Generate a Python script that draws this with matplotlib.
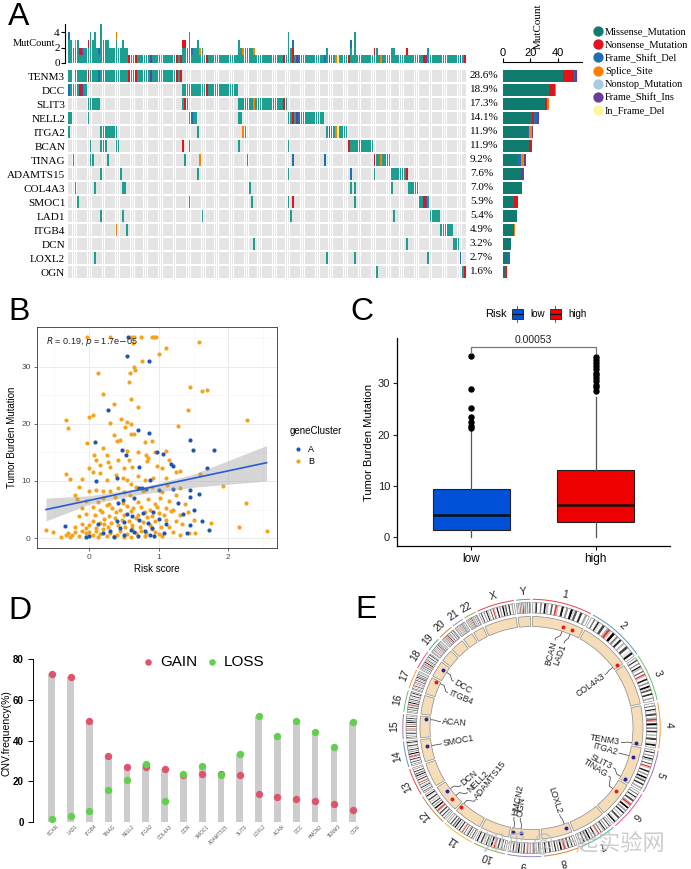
import matplotlib
matplotlib.use("Agg")
import matplotlib.pyplot as plt
import numpy as np
from matplotlib.patches import Wedge, Rectangle

plt.rcParams['font.family'] = ['Liberation Sans', 'DejaVu Sans']
SERIF = 'Liberation Serif'

# ---------------- panel A : oncoplot ----------------
genes = ['TENM3', 'DCC', 'SLIT3', 'NELL2', 'ITGA2', 'BCAN', 'TINAG', 'ADAMTS15',
         'COL4A3', 'SMOC1', 'LAD1', 'ITGB4', 'DCN', 'LOXL2', 'OGN']
pct_labels = ['28.6%', '18.9%', '17.3%', '14.1%', '11.9%', '11.9%', '9.2%', '7.6%',
              '7.0%', '5.9%', '5.4%', '4.9%', '3.2%', '2.7%', '1.6%']
n_samples = 185

# mutated sample columns for each gene (read from the matrix)
tenm3_cols = list(range(0, 53))
dcc_cols = list(range(0, 9)) + list(range(53, 79))
slit3_cols = list(range(9, 15)) + [53, 54, 55] + list(range(79, 102))
nell2_cols = [0, 1, 9, 56, 57, 58, 59, 79, 80] + list(range(102, 119))
itga2_cols = [0] + list(range(15, 23)) + [60, 81, 82] + list(range(120, 130))
bcan_cols = [10, 15, 16, 17, 22, 23, 53, 56, 79, 102] + list(range(130, 142))
tinag_cols = [2, 10, 11, 18, 54, 61, 83, 104, 119] + list(range(142, 150))
adamts15_cols = [15, 24, 60, 102, 131, 142] + list(range(150, 158))
col4a3_cols = [3, 12, 25, 26, 84, 131, 133, 150] + list(range(158, 163))
smoc1_cols = [4, 56, 85, 102, 104, 133] + list(range(163, 168))
lad1_cols = [15, 25, 62, 103, 151] + list(range(168, 173))
itgb4_cols = [22, 27] + list(range(173, 179))
dcn_cols = [86, 157, 179, 180, 181]
loxl2_cols = [12, 120, 133, 167, 182]
ogn_cols = [143, 183, 184]

# non-missense cells (gene, column)
nonsense_cells = [('TENM3', 9), ('TENM3', 28), ('TENM3', 31), ('TENM3', 50), ('TENM3', 52),
                  ('DCC', 5), ('DCC', 64), ('SLIT3', 54), ('SLIT3', 100), ('NELL2', 104),
                  ('BCAN', 53), ('BCAN', 130), ('TINAG', 142), ('ADAMTS15', 157),
                  ('SMOC1', 104), ('SMOC1', 165), ('OGN', 184)]
fsdel_cells = [('TENM3', 14), ('DCC', 0), ('NELL2', 57), ('NELL2', 107), ('TINAG', 104),
               ('TINAG', 119), ('ADAMTS15', 131), ('LOXL2', 182), ('ITGA2', 121)]
splice_cells = [('TENM3', 43), ('DCC', 3), ('SLIT3', 86), ('ITGA2', 81), ('ITGA2', 124),
                ('TINAG', 61), ('TINAG', 145), ('ITGB4', 22)]
fsins_cells = [('TENM3', 38), ('DCC', 6), ('SMOC1', 166), ('NELL2', 106)]
ifdel_cells = [('TENM3', 2), ('ITGA2', 125)]

mut_types = ['Missense_Mutation', 'Nonsense_Mutation', 'Frame_Shift_Del', 'Splice_Site',
             'Nonstop_Mutation', 'Frame_Shift_Ins', 'In_Frame_Del']
mut_colors = ['#1C9E91', '#E3131B', '#1F6FB4', '#FF8000', '#A6CEE3', '#6A3D9A', '#FFF59A']
legend_colors = ['#0F7C6F', '#E3131B', '#1F6FB4', '#FF8000', '#A6CEE3', '#6A3D9A', '#FFF59A']

# side bar counts per gene and type
side_missense = [44, 34, 31, 21, 18, 19, 10, 13, 14, 8, 10, 8, 6, 4, 2]
side_nonsense = [8, 4, 1, 2, 0, 2, 0, 1, 0, 2, 0, 0, 0, 0, 1]
side_fsdel = [1, 0, 0, 2, 1, 0, 3, 0, 0, 0, 0, 0, 0, 1, 0]
side_splice = [0, 1, 2, 0, 2, 0, 2, 0, 0, 0, 0, 1, 0, 0, 0]
side_nonstop = [0] * 15
side_fsins = [1, 0, 0, 1, 1, 0, 2, 1, 0, 1, 0, 0, 0, 0, 0]
side_ifdel = [1, 0, 0, 0, 0, 0, 0, 0, 0, 0, 0, 0, 0, 0, 0]

# ---------------- panel B : scatter ----------------
a_points = [(0.56, 35.2), (0.55, 32.0), (0.86, 31.0), (0.27, 22.5), (0.70, 19.0), (0.08, 16.8),
            (0.86, 18.5), (0.47, 15.5), (0.53, 14.6), (0.97, 15.0), (1.06, 14.8), (1.45, 17.2),
            (1.49, 15.4), (1.80, 15.5), (1.18, 13.0), (1.20, 12.6), (1.70, 12.3), (0.72, 12.5),
            (0.10, 10.0), (0.40, 10.5), (0.87, 10.2), (0.72, 8.7), (0.76, 8.7), (0.81, 8.6),
            (1.00, 8.5), (1.20, 8.6), (1.45, 8.4), (1.45, 7.2), (1.58, 7.8), (0.42, 6.2),
            (0.49, 6.6), (0.65, 7.0), (1.28, 6.2), (0.55, 4.2), (0.62, 3.9), (0.78, 4.4),
            (0.92, 4.5), (1.50, 4.9), (1.35, 4.2), (0.40, 3.0), (0.50, 2.8), (0.72, 3.1),
            (0.85, 2.6), (1.00, 3.3), (1.10, 2.5), (1.62, 3.0), (-0.35, 2.1), (0.12, 2.5),
            (0.30, 1.3), (0.45, 1.8), (0.60, 1.4), (0.90, 1.7), (1.08, 0.8), (1.45, 2.3),
            (1.72, 1.4), (1.40, 0.9), (-0.05, 0.1), (0.00, 0.3), (0.35, 0.1), (0.50, 0.5),
            (0.70, 0.3), (0.88, 0.6), (0.93, 0.4), (0.20, 0.8), (0.65, 1.0), (0.80, 1.2)]
b_points = [(-0.03, 35.2), (0.30, 35.2), (0.60, 35.2), (0.65, 35.2), (0.75, 35.2), (0.90, 35.2),
            (0.93, 35.2), (0.96, 35.2), (0.63, 34.2), (1.58, 34.3), (1.10, 33.4), (1.00, 32.3),
            (0.76, 31.0), (0.58, 29.0), (0.65, 30.0), (0.66, 29.5), (0.13, 29.0), (0.57, 27.3),
            (0.20, 25.2), (1.62, 25.7), (1.70, 25.9), (1.45, 26.5), (0.60, 24.3), (0.35, 23.5),
            (0.70, 23.0), (1.42, 22.5), (0.05, 21.5), (0.00, 21.3), (-0.33, 20.7), (-0.30, 19.3),
            (0.30, 20.2), (0.46, 20.8), (0.55, 20.4), (0.52, 19.5), (0.60, 20.0), (2.27, 20.7),
            (1.27, 19.7), (0.35, 18.0), (0.60, 18.3), (0.65, 18.2), (0.40, 17.0), (0.45, 17.1),
            (0.90, 17.0), (0.80, 16.9), (-0.03, 16.7), (0.20, 15.8), (0.55, 15.3), (0.70, 15.0),
            (0.25, 14.5), (0.82, 14.6), (0.95, 15.0), (1.10, 15.2), (0.07, 14.5), (0.10, 13.7),
            (0.27, 13.3), (0.42, 13.6), (0.57, 13.7), (0.83, 13.5), (0.85, 14.0), (1.15, 13.6),
            (1.05, 12.2), (1.30, 11.8), (0.15, 12.8), (0.30, 12.5), (0.50, 12.3), (0.62, 12.4),
            (0.98, 12.6), (-0.33, 11.2), (-0.28, 10.3), (-0.10, 10.4), (0.00, 12.3), (0.05, 11.5),
            (0.15, 11.4), (0.38, 11.0), (0.48, 10.6), (0.70, 10.8), (0.92, 10.6), (1.10, 10.5),
            (1.25, 11.5), (1.60, 11.2), (0.25, 10.2), (0.55, 10.2), (0.80, 10.1), (-0.15, 9.0),
            (0.00, 8.3), (-0.20, 7.6), (0.10, 8.5), (0.20, 8.2), (0.30, 8.3), (0.42, 8.7),
            (0.50, 8.0), (0.60, 9.5), (0.68, 9.0), (0.78, 8.2), (0.90, 9.0), (1.05, 8.0),
            (1.12, 9.3), (1.30, 8.8), (1.93, 9.1), (-0.18, 6.9), (-0.05, 6.5), (0.12, 6.3),
            (0.20, 7.0), (0.28, 6.0), (0.37, 7.2), (0.48, 6.1), (0.58, 7.5), (0.70, 6.3),
            (0.85, 6.8), (0.95, 6.0), (1.02, 7.0), (1.15, 6.5), (1.25, 7.5), (1.38, 6.0),
            (2.25, 6.2), (-0.10, 5.3), (0.05, 5.5), (0.15, 5.0), (0.25, 5.8), (0.33, 5.2),
            (0.45, 5.0), (0.55, 5.6), (0.63, 5.2), (0.75, 5.4), (0.88, 5.0), (0.98, 5.5),
            (1.10, 5.2), (1.20, 5.0), (-0.62, 1.4), (-0.52, 1.1), (-0.40, 0.1), (-0.30, 0.8),
            (-0.25, 0.5), (-0.20, 1.0), (-0.15, 0.4), (-0.10, 1.3), (-0.05, 0.8), (0.00, 1.0),
            (0.05, 0.5), (0.10, 1.2), (0.15, 0.7), (0.20, 1.5), (0.25, 0.3), (0.30, 0.9),
            (0.40, 0.6), (0.45, 1.2), (0.55, 0.7), (0.60, 0.2), (0.68, 0.8), (0.75, 1.3),
            (0.82, 0.9), (0.95, 1.0), (1.00, 0.7), (1.05, 0.3), (1.20, 1.0), (1.30, 0.5),
            (1.43, 0.8), (1.52, 0.9), (2.15, 2.0), (2.55, 1.3), (1.75, 2.6), (-0.20, 2.0),
            (-0.10, 2.5), (0.00, 2.2), (0.05, 3.0), (0.10, 1.8), (0.15, 2.7), (0.22, 3.3),
            (0.27, 2.0), (0.32, 2.6), (0.37, 3.5), (0.42, 2.2), (0.47, 3.2), (0.52, 2.0),
            (0.57, 3.0), (0.62, 2.3), (0.68, 3.5), (0.73, 2.0), (0.78, 2.8), (0.83, 3.6),
            (0.88, 2.2), (0.95, 3.0), (1.03, 2.0), (1.10, 3.2), (1.15, 2.0), (1.25, 3.0),
            (1.33, 2.5), (1.50, 3.2), (-0.15, 3.8), (-0.05, 4.2), (0.08, 4.0), (0.18, 4.5),
            (0.28, 3.9), (0.38, 4.6), (0.50, 4.0), (0.60, 4.8), (0.70, 4.0), (0.80, 4.6),
            (0.90, 3.9), (1.00, 4.4), (1.08, 4.1), (1.18, 4.7), (1.30, 4.0), (1.42, 4.5),
            (-0.33, 0.5), (-0.28, 0.2), (0.12, 0.1), (0.35, 0.3), (0.50, 0.1), (0.80, 0.4),
            (0.90, 1.5), (0.62, 1.7), (0.22, 2.4), (-0.05, 1.7)]
fit_slope, fit_intercept = 2.59, 6.6
ci_x = [-0.62, 0.0, 0.7, 1.5, 2.55]
ci_lo = [3.0, 5.9, 7.6, 8.9, 10.0]
ci_hi = [7.0, 7.4, 8.7, 11.2, 16.2]

# ---------------- panel C : boxplot ----------------
risk_groups = ['low', 'high']
box_stats = [
    dict(med=4.2, q1=1.4, q3=9.3, whislo=0.0, whishi=20.8,
         fliers=[21.2, 21.6, 22.4, 23.5, 25.2, 29.0, 35.3]),
    dict(med=6.2, q1=2.8, q3=13.1, whislo=0.0, whishi=27.3,
         fliers=[28.6, 29.3, 29.8, 30.4, 31.0, 31.7, 32.1, 32.8, 33.4, 34.0, 34.6, 35.1]),
]
p_value_label = '0.00053'

# ---------------- panel D : CNV frequency ----------------
cnv_genes = ['BCAN', 'LAD1', 'ITGB4', 'TINAG', 'NELL2', 'ITGA2', 'COL4A3', 'DCN', 'SMOC1',
             'ADAMTS15', 'SLIT3', 'LOXL2', 'ACAN', 'DCC', 'HMCN2', 'TENM3', 'OGN']
cnv_gain = [72.5, 71.0, 49.5, 32.5, 27.0, 27.0, 26.0, 23.2, 23.5, 23.5, 23.2, 13.5, 12.0,
            11.2, 10.2, 9.0, 6.0]
cnv_loss = [1.5, 3.0, 5.5, 15.8, 20.5, 28.7, 10.2, 23.7, 27.5, 23.0, 33.5, 52.0, 42.2,
            49.5, 44.0, 36.8, 49.0]

# ---------------- panel E : circos ----------------
chrom_names = [str(i) for i in range(1, 23)] + ['X', 'Y']
chrom_len_mb = [249, 243, 198, 191, 181, 171, 159, 146, 141, 136, 135, 134, 115, 107, 103,
                90, 81, 78, 59, 63, 48, 51, 155, 59]
chrom_colors = ['#E41A1C', '#377EB8', '#4DAF4A', '#FF7F00', '#984EA3', '#E7298A', '#1B9E77',
                '#D95F02', '#7570B3', '#66A61E', '#E6AB02', '#A6761D', '#E41A1C', '#377EB8',
                '#984EA3', '#4DAF4A', '#FF7F00', '#E7298A', '#1B9E77', '#D95F02', '#7570B3',
                '#66A61E', '#E41A1C', '#377EB8']
band_edges = [0.00, 0.05, 0.08, 0.13, 0.16, 0.20, 0.23, 0.28, 0.32, 0.35, 0.39, 0.42, 0.45,
              0.50, 0.54, 0.58, 0.62, 0.66, 0.70, 0.74, 0.78, 0.83, 0.87, 0.92, 0.96, 1.00]
band_shades_a = ['#F2F2F2', '#3A3A3A', '#FFFFFF', '#8C8C8C', '#FFFFFF', '#111111', '#C8C8C8',
                 '#FFFFFF', '#5E5E5E', '#FFFFFF', '#D63A30', '#E8A6A0', '#FFFFFF', '#222222',
                 '#FFFFFF', '#999999', '#FFFFFF', '#000000', '#DDDDDD', '#555555', '#FFFFFF',
                 '#303030', '#FFFFFF', '#A8A8A8', '#FFFFFF']
band_shades_b = ['#FFFFFF', '#777777', '#FFFFFF', '#1E1E1E', '#E0E0E0', '#FFFFFF', '#4A4A4A',
                 '#FFFFFF', '#B5B5B5', '#D63A30', '#E8A6A0', '#FFFFFF', '#000000', '#FFFFFF',
                 '#8A8A8A', '#FFFFFF', '#2A2A2A', '#FFFFFF', '#C0C0C0', '#FFFFFF', '#444444',
                 '#FFFFFF', '#E4E4E4', '#111111', '#FFFFFF']
e_genes = ['BCAN', 'LAD1', 'COL4A3', 'TENM3', 'ITGA2', 'SLIT3', 'TINAG', 'LOXL2', 'OGN',
           'HMCN2', 'ADAMTS15', 'NELL2', 'DCN', 'SMOC1', 'ACAN', 'ITGB4', 'DCC']
e_chrom = ['1', '1', '2', '4', '5', '5', '6', '8', '9', '9', '11', '12', '12', '14', '15',
           '17', '18']
e_pos_mb = [156, 201, 228, 183, 52, 168, 54, 23, 95, 133, 130, 45, 91, 70, 89, 73, 50]
e_label_angle = [75, 69, 36, -9, -16, -26, -32, -72, -97, -101, -128, -135, -141, -170,
                 176, 157, 149]

# =====================================================================
W, H = 691, 869
fig = plt.figure(figsize=(W / 100, H / 100), dpi=100)


def px_axes(x0, y0, x1, y1, **kw):
    return fig.add_axes([x0 / W, 1 - y1 / H, (x1 - x0) / W, (y1 - y0) / H], **kw)


# ---------- A ----------
gene_cols = [tenm3_cols, dcc_cols, slit3_cols, nell2_cols, itga2_cols, bcan_cols, tinag_cols,
             adamts15_cols, col4a3_cols, smoc1_cols, lad1_cols, itgb4_cols, dcn_cols,
             loxl2_cols, ogn_cols]
code = np.full((len(genes), n_samples), -1)
for i, cols in enumerate(gene_cols):
    code[i, cols] = 0
for t, cells in [(1, nonsense_cells), (2, fsdel_cells), (3, splice_cells),
                 (5, fsins_cells), (6, ifdel_cells)]:
    for g, c in cells:
        code[genes.index(g), c] = t

xs = np.arange(n_samples)
ax_top = px_axes(68, 22, 466, 63)
bottom = np.zeros(n_samples)
for t in range(len(mut_types)):
    cnt = (code == t).sum(axis=0)
    ax_top.bar(xs, cnt, bottom=bottom, width=0.8, color=mut_colors[t], linewidth=0)
    bottom += cnt
ax_top.set_xlim(-0.5, n_samples - 0.5)
ax_top.set_ylim(0, 5.3)
ax_top.set_xticks([])
ax_top.set_yticks([0, 2, 4])
for s in ['top', 'right', 'bottom']:
    ax_top.spines[s].set_visible(False)
ax_top.spines['left'].set_position(('outward', 2))
ax_top.spines['left'].set_bounds(0, 5)
ax_top.tick_params(axis='y', labelsize=8, length=3, pad=1)
for lab in ax_top.get_yticklabels():
    lab.set_family(SERIF)

ax_mat = px_axes(68, 69, 466, 279)
for i in range(len(genes)):
    ax_mat.bar(xs, 0.86, bottom=i - 0.43, width=0.8, color='#E4E4E4', linewidth=0)
    for t in range(len(mut_types)):
        cols = np.where(code[i] == t)[0]
        if len(cols):
            ax_mat.bar(cols, 0.86, bottom=i - 0.43, width=0.8, color=mut_colors[t], linewidth=0)
    ax_mat.text(1.01, i, pct_labels[i], transform=ax_mat.get_yaxis_transform(),
                ha='left', va='center', fontsize=8, family=SERIF)
ax_mat.set_xlim(-0.5, n_samples - 0.5)
ax_mat.set_ylim(len(genes) - 0.5, -0.5)
ax_mat.set_xticks([])
ax_mat.set_yticks(range(len(genes)))
ax_mat.set_yticklabels(genes, fontsize=8, family=SERIF)
ax_mat.tick_params(axis='y', length=0, pad=2)
for s in ax_mat.spines.values():
    s.set_visible(False)

ax_side = px_axes(503, 69, 582, 279)
side_counts = [side_missense, side_nonsense, side_fsdel, side_splice, side_nonstop,
               side_fsins, side_ifdel]
left = np.zeros(len(genes))
for t, cnt in enumerate(side_counts):
    cnt = np.array(cnt)
    ax_side.barh(np.arange(len(genes)), cnt, left=left, height=0.92,
                 color=legend_colors[t], linewidth=0)
    left += cnt
ax_side.set_xlim(0, 57.8)
ax_side.set_ylim(len(genes) - 0.5, -0.5)
ax_side.set_yticks([])
ax_side.xaxis.tick_top()
ax_side.set_xticks([0, 20, 40])
ax_side.tick_params(axis='x', labelsize=8, length=3, pad=0)
for lab in ax_side.get_xticklabels():
    lab.set_family(SERIF)
for s in ['bottom', 'left', 'right']:
    ax_side.spines[s].set_visible(False)
ax_side.spines['top'].set_position(('outward', 5))

# ---------- B ----------
ax_b = px_axes(37, 327, 277, 548)
ax_b.set_xlim(-0.75, 2.70)
ax_b.set_ylim(-1.75, 37)
ax_b.set_xticks([0, 1, 2])
ax_b.set_xticks([-0.5, 0.5, 1.5, 2.5], minor=True)
ax_b.set_yticks([0, 10, 20, 30])
ax_b.set_yticks([5, 15, 25, 35], minor=True)
ax_b.grid(True, which='major', color='#EBEBEB', lw=0.7)
ax_b.grid(True, which='minor', color='#F3F3F3', lw=0.4)
ax_b.set_axisbelow(True)
ax_b.tick_params(which='major', labelsize=6, colors='#333333', labelcolor='#4D4D4D',
                 length=2.5, width=0.5, pad=2)
ax_b.tick_params(which='minor', length=0)
for s in ax_b.spines.values():
    s.set_color('#333333')
    s.set_linewidth(0.6)
ci_x_arr = np.array(ci_x)
ax_b.fill_between(ci_x_arr, ci_lo, ci_hi, color='#999999', alpha=0.4, lw=0, zorder=3)
bx, by = np.array(b_points).T
ax_x, ax_y = np.array(a_points).T
ax_b.scatter(bx, by, s=9, color='#F5A31A', lw=0, zorder=2)
ax_b.scatter(ax_x, ax_y, s=9, color='#1D57B5', lw=0, zorder=2)
ax_b.plot(ci_x_arr[[0, -1]], fit_intercept + fit_slope * ci_x_arr[[0, -1]],
          color='#2A5BD7', lw=1.2, zorder=4)
ax_b.text(-0.62, 34.4, r'$\it{R}$ = 0.19, $\it{p}$ = 1.7e$-$05', fontsize=6.5,
          va='center', ha='left', color='#222222')
ax_b.set_xlabel('Risk score', fontsize=7, labelpad=2)
ax_b.set_ylabel('Tumor Burden Mutation', fontsize=7, labelpad=3)

# ---------- C ----------
ax_c = px_axes(397, 338, 670, 546)
bp = ax_c.bxp(box_stats, positions=[1, 2], widths=0.62, patch_artist=True,
              showfliers=True,
              boxprops=dict(linewidth=0.8, edgecolor='#222222'),
              medianprops=dict(color='#111111', linewidth=1.8),
              whiskerprops=dict(color='#555555', linewidth=0.9),
              capprops=dict(linewidth=0),
              flierprops=dict(marker='o', markersize=3.6, markerfacecolor='black',
                              markeredgecolor='black'))
for patch, c in zip(bp['boxes'], ['#0050D8', '#EE0000']):
    patch.set_facecolor(c)
ax_c.set_xlim(0.4, 2.6)
ax_c.set_ylim(-1.8, 38.9)
ax_c.set_xticks([1, 2])
ax_c.set_xticklabels(risk_groups, fontsize=8.5)
ax_c.set_yticks([0, 10, 20, 30])
ax_c.tick_params(axis='y', labelsize=8, colors='#222222', length=3, width=0.8, pad=2)
ax_c.tick_params(axis='x', length=3, width=0.8, pad=2)
for s in ['top', 'right']:
    ax_c.spines[s].set_visible(False)
for s in ['left', 'bottom']:
    ax_c.spines[s].set_linewidth(0.9)
ax_c.set_ylabel('Tumor Burden Mutation', fontsize=8, labelpad=3)
ax_c.plot([1, 1, 2, 2], [35.9, 37.2, 37.2, 35.9], color='#777777', lw=0.9)
ax_c.text(1.5, 37.5, p_value_label, ha='center', va='bottom', fontsize=7.5, color='#222222')

# ---------- D ----------
ax_d = px_axes(33, 651, 364, 828)
pos = np.arange(1, len(cnv_genes) + 1)
top_val = np.maximum(cnv_gain, cnv_loss)
ax_d.bar(pos, top_val, width=0.36, color='#CCCCCC', linewidth=0, zorder=1)
ax_d.scatter(pos, cnv_gain, s=28, color='#DF536B', lw=0, zorder=2)
ax_d.scatter(pos, cnv_loss, s=28, color='#61D04F', lw=0, zorder=3)
ax_d.set_xlim(0, 17.6)
ax_d.set_ylim(-3, 84)
ax_d.set_xticks([])
ax_d.set_yticks([0, 20, 40, 60, 80])
ax_d.set_yticklabels(['0', '20', '40', '60', '80'], fontsize=7, fontweight='bold')
ax_d.tick_params(axis='y', length=3.5, width=0.7, pad=3)
for s in ['top', 'right', 'bottom']:
    ax_d.spines[s].set_visible(False)
ax_d.spines['left'].set_bounds(0, 80)
ax_d.spines['left'].set_linewidth(0.7)
for p, g in zip(pos, cnv_genes):
    ax_d.text(p + 0.25, -1.0, g, rotation=45, ha='right', va='top', fontsize=3.4,
              color='#555555', rotation_mode='anchor')

# ---------- E ----------
ax_e = px_axes(365, 590, 691, 869)
cy = 728.0
ax_e.set_xlim(365 - 531.5, 691 - 531.5)
ax_e.set_ylim(-(869 - cy), cy - 590)
ax_e.axis('off')
gap = 1.0
deg_per_mb = (360 - gap * len(chrom_len_mb)) / sum(chrom_len_mb)
starts = []
a = 90 - gap / 2
for L in chrom_len_mb:
    starts.append(a)
    a -= L * deg_per_mb + gap

for ci, (name, L) in enumerate(zip(chrom_names, chrom_len_mb)):
    s0 = starts[ci]
    span = L * deg_per_mb
    e0 = s0 - span
    shades = band_shades_a if ci % 2 == 0 else band_shades_b
    for k in range(len(band_edges) - 1):
        a1 = s0 - band_edges[k + 1] * span
        a2 = s0 - band_edges[k] * span
        ax_e.add_patch(Wedge((0, 0), 125.5, a1, a2, width=10.5, facecolor=shades[k],
                             edgecolor='none', lw=0))
    ax_e.add_patch(Wedge((0, 0), 125.5, e0, s0, width=10.5, facecolor='none',
                         edgecolor='#777777', lw=0.4))
    ax_e.add_patch(Wedge((0, 0), 111.5, e0, s0, width=10, facecolor='#F4DDB8',
                         edgecolor='#8A8A8A', lw=0.5))
    ax_e.add_patch(Wedge((0, 0), 129.2, e0, s0, width=1.0, facecolor=chrom_colors[ci],
                         edgecolor='none', alpha=0.8))
    mid = np.deg2rad(s0 - span / 2)
    ax_e.text(137 * np.cos(mid), 137 * np.sin(mid), name, fontsize=7.5, ha='center',
              va='center', rotation=np.rad2deg(mid) - 90, color='#222222')

gain_map = dict(zip(cnv_genes, cnv_gain))
loss_map = dict(zip(cnv_genes, cnv_loss))
for g, ch, mb, la in zip(e_genes, e_chrom, e_pos_mb, e_label_angle):
    th = starts[chrom_names.index(ch)] - mb * deg_per_mb
    t = np.deg2rad(th)
    tl = np.deg2rad(la)
    col = '#E41A1C' if gain_map[g] > loss_map[g] else '#25259A'
    ax_e.scatter([106 * np.cos(t)], [106 * np.sin(t)], s=8, color=col, lw=0, zorder=5)
    rr = [101, 97, 93, 91]
    aa = [t, t, tl, tl]
    ax_e.plot([r * np.cos(q) for r, q in zip(rr, aa)], [r * np.sin(q) for r, q in zip(rr, aa)],
              color='#333333', lw=0.5)
    la_n = ((la + 180) % 360) - 180
    if -90 <= la_n <= 90:
        rot, ha = la_n, 'right'
    else:
        rot, ha = la_n + 180, 'left'
    ax_e.text(89.5 * np.cos(tl), 89.5 * np.sin(tl), g, rotation=rot, ha=ha, va='center',
              rotation_mode='anchor', fontsize=6.3, color='#222222')

# ---------- overlay : panel letters, legends ----------
ov = px_axes(0, 0, W, H)
ov.set_xlim(0, W)
ov.set_ylim(H, 0)
ov.axis('off')
ov.patch.set_alpha(0)
for letter, (lx, ly) in zip('ABCDE', [(8, 2), (8, 297), (350, 297), (8, 596), (355, 595)]):
    ov.text(lx, ly, letter, fontsize=23, ha='left', va='top')

ov.text(55, 44, 'MutCount', fontsize=7.5, family=SERIF, ha='right', va='center')
ov.text(538, 26, 'MutCount', fontsize=8, family=SERIF, ha='center', va='center', rotation=90)
for k, (name, c) in enumerate(zip(mut_types, legend_colors)):
    yy = 31 + k * 13.2
    ov.scatter([598], [yy], s=55, color=c, lw=0)
    ov.text(605, yy + 1, name, fontsize=7.5, family=SERIF, ha='left', va='center')

ov.text(290, 431, 'geneCluster', fontsize=7, ha='left', va='center')
ov.scatter([298], [449], s=9, color='#1D57B5', lw=0)
ov.scatter([298], [461], s=9, color='#F5A31A', lw=0)
ov.text(308, 449, 'A', fontsize=6.5, ha='left', va='center')
ov.text(308, 461, 'B', fontsize=6.5, ha='left', va='center')

ov.text(485, 314, 'Risk', fontsize=8, ha='left', va='center')
for (x0, c, lab) in [(512, '#0050D8', 'low'), (550, '#EE0000', 'high')]:
    ov.add_patch(Rectangle((x0, 309), 11, 10, facecolor=c, edgecolor='#222222', lw=0.6))
    ov.plot([x0, x0 + 11], [314, 314], color='#111111', lw=0.8)
    ov.plot([x0 + 5.5, x0 + 5.5], [306, 309], color='#444444', lw=0.6)
    ov.plot([x0 + 5.5, x0 + 5.5], [319, 322], color='#444444', lw=0.6)
    ov.text(x0 + 18, 314, lab, fontsize=7, ha='left', va='center')

ov.scatter([148], [662], s=22, color='#DF536B', lw=0)
ov.text(160, 662, 'GAIN', fontsize=11, ha='left', va='center')
ov.scatter([212], [662], s=22, color='#61D04F', lw=0)
ov.text(224, 662, 'LOSS', fontsize=11, ha='left', va='center')
ov.text(7, 733, 'CNV.frequency(%)', fontsize=7.5, rotation=90, ha='center', va='center')

ov.text(483, 842, '知乎 @一起实验网', fontsize=16, color='#BDBDBD', alpha=0.75,
        ha='left', va='center', family=['Noto Sans CJK SC', 'DejaVu Sans'])

fig.savefig('out.png', dpi=100)
